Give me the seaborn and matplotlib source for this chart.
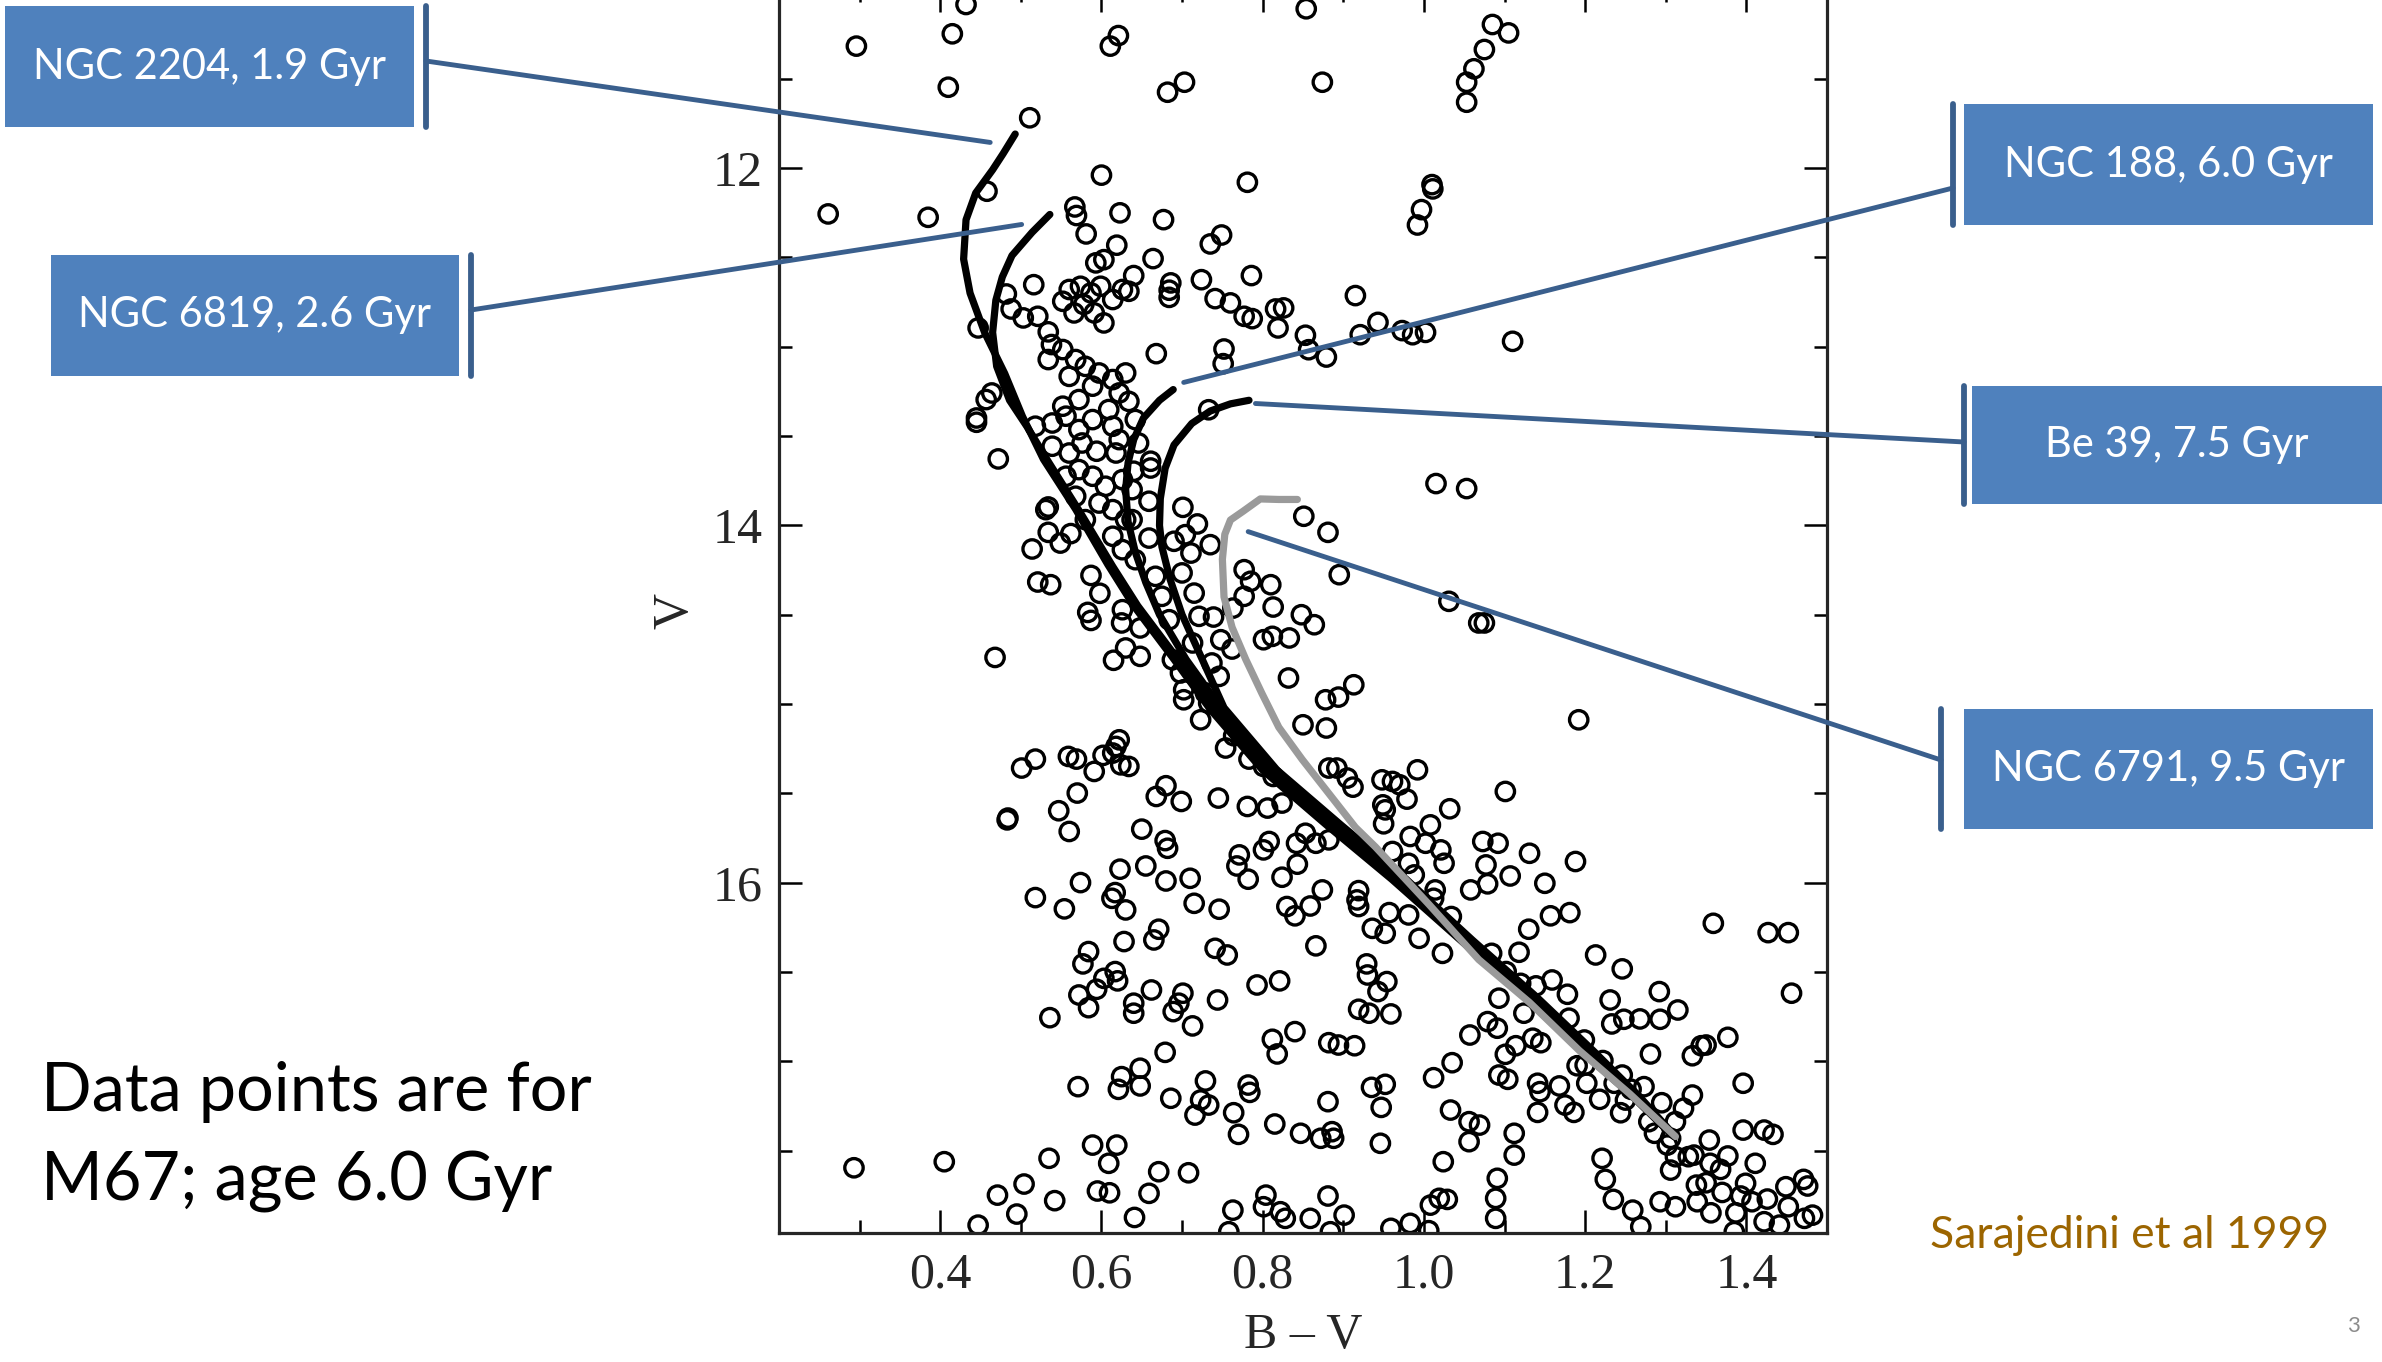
import pandas as pd
import matplotlib
matplotlib.use("Agg")
import matplotlib.pyplot as plt
from matplotlib.patches import Rectangle
from matplotlib.lines import Line2D
from matplotlib.ticker import FixedLocator, MultipleLocator, FormatStrFormatter
import seaborn as sns

# M67 stars (B-V, V)
m67_upper = [
    (0.432, 11.085), (0.415, 11.249), (0.296, 11.318), (0.621, 11.259), (0.611, 11.318),
    (0.410, 11.548), (0.511, 11.719), (0.600, 12.040), (0.458, 12.130), (0.261, 12.257),
    (0.385, 12.276), (0.567, 12.218), (0.569, 12.266), (0.623, 12.251), (0.581, 12.369),
    (0.619, 12.432), (0.516, 12.653), (0.482, 12.705), (0.488, 12.789), (0.503, 12.839),
    (0.521, 12.830), (0.534, 12.917), (0.538, 12.988), (0.534, 13.072), (0.447, 12.895),
    (0.464, 13.259), (0.457, 13.296), (0.445, 13.399),
    (0.593, 12.531), (0.603, 12.513), (0.560, 12.680), (0.574, 12.662), (0.587, 12.699),
    (0.599, 12.662), (0.626, 12.680), (0.552, 12.746), (0.566, 12.811), (0.578, 12.764),
    (0.591, 12.811), (0.603, 12.867), (0.614, 12.736), (0.552, 13.016), (0.568, 13.072),
    (0.580, 13.110), (0.597, 13.147), (0.614, 13.184), (0.560, 13.166), (0.552, 13.333),
    (0.572, 13.296), (0.589, 13.221), (0.622, 13.259), (0.609, 13.352), (0.630, 13.147),
    (0.854, 11.109), (0.682, 11.576), (0.703, 11.520), (0.874, 11.520), (1.062, 11.445),
    (1.053, 11.520), (1.053, 11.632), (0.781, 12.080), (1.010, 12.093), (1.011, 12.117),
    (0.997, 12.233), (0.992, 12.319), (0.677, 12.289), (0.749, 12.375), (0.735, 12.425),
    (0.664, 12.507), (0.640, 12.602), (0.634, 12.690), (0.686, 12.643), (0.684, 12.684),
    (0.684, 12.724), (0.724, 12.625), (0.786, 12.602), (0.741, 12.731), (0.760, 12.755),
    (0.777, 12.830), (0.787, 12.843), (0.816, 12.789), (0.826, 12.783), (0.819, 12.895),
    (0.915, 12.714), (0.853, 12.936), (0.857, 13.017), (0.879, 13.058), (0.921, 12.933),
    (0.943, 12.864), (0.973, 12.910), (0.986, 12.933), (1.002, 12.920), (0.668, 13.039),
    (0.752, 13.013), (0.751, 13.095), (0.634, 13.306), (0.733, 13.353),
    (1.085, 11.197), (1.105, 11.244), (1.075, 11.337), (1.110, 12.970),
]

m67_middle = [
    (0.445, 13.423), (0.472, 13.628), (0.534, 13.897), (0.531, 13.912), (0.534, 14.039),
    (0.549, 14.099), (0.562, 14.046), (0.514, 14.132), (0.521, 14.317), (0.537, 14.332),
    (0.587, 14.280), (0.598, 14.380), (0.583, 14.487), (0.587, 14.532), (0.626, 14.472),
    (0.625, 14.546), (0.630, 14.686), (0.615, 14.755), (0.468, 14.739), (0.594, 13.585),
    (0.518, 13.445), (0.539, 13.427), (0.556, 13.389), (0.572, 13.464), (0.589, 13.408),
    (0.614, 13.445), (0.622, 13.520), (0.539, 13.557), (0.560, 13.595), (0.576, 13.539),
    (0.618, 13.595), (0.556, 13.725), (0.572, 13.688), (0.589, 13.725), (0.605, 13.781),
    (0.626, 13.744), (0.568, 13.837), (0.597, 13.875), (0.614, 13.912), (0.630, 13.968),
    (0.580, 13.968), (0.614, 14.061), (0.626, 14.136),
    (0.622, 15.200), (0.618, 15.237), (0.614, 15.274), (0.624, 15.340), (0.602, 15.287),
    (0.518, 15.308), (0.501, 15.358), (0.559, 15.293), (0.569, 15.308), (0.591, 15.377),
    (0.570, 15.498), (0.547, 15.597), (0.484, 15.638),
    (1.015, 13.766), (1.053, 13.794), (0.851, 13.949), (0.881, 14.039), (0.895, 14.276),
    (1.031, 14.425), (1.068, 14.546), (0.701, 13.899), (0.719, 13.992), (0.704, 14.052),
    (0.690, 14.089), (0.735, 14.108), (0.711, 14.155), (0.700, 14.266), (0.661, 13.641),
    (0.661, 13.679), (0.640, 13.697), (0.659, 13.865), (0.659, 14.071), (0.777, 14.248),
    (0.785, 14.313), (0.777, 14.397), (0.810, 14.332), (0.813, 14.457), (0.848, 14.500),
    (0.864, 14.556), (0.801, 14.640), (0.812, 14.621), (0.833, 14.630), (0.763, 14.463),
    (0.739, 14.513), (0.715, 14.379), (0.748, 14.640), (0.762, 14.692), (0.648, 14.574),
    (0.648, 14.733), (0.688, 14.752), (0.698, 14.826), (0.702, 14.920), (0.702, 14.976),
    (0.723, 15.088), (0.733, 14.994), (0.832, 14.854), (0.878, 14.976), (0.894, 14.961),
    (0.913, 14.892), (0.850, 15.116), (0.879, 15.134), (0.764, 15.177), (0.754, 15.246),
    (0.783, 15.308), (0.801, 15.349), (0.813, 15.405), (0.634, 15.349), (0.680, 15.457),
    (0.668, 15.517), (0.699, 15.545), (0.745, 15.526), (0.781, 15.573), (0.806, 15.582),
    (0.824, 15.554), (0.882, 15.358), (0.892, 15.358), (0.905, 15.414), (0.912, 15.465),
    (0.948, 15.424), (0.961, 15.433), (0.970, 15.452), (0.992, 15.368), (0.979, 15.532),
    (0.949, 15.564), (0.952, 15.592), (1.032, 15.586),
    (0.642, 13.408), (0.646, 13.539), (0.638, 13.800), (0.638, 13.968), (0.642, 14.192),
    (0.667, 14.285), (0.675, 14.397), (0.684, 14.528), (0.721, 14.509), (0.713, 14.658),
    (0.737, 14.770), (0.746, 14.845), (0.729, 14.938),
    (1.075, 14.546), (1.192, 15.088), (1.101, 15.489),
]

m67_lower = [
    (0.483, 15.648), (0.560, 15.713), (0.623, 15.924), (0.574, 15.999), (0.518, 16.083),
    (0.554, 16.146), (0.617, 16.055), (0.613, 16.087), (0.630, 16.152), (0.628, 16.329),
    (0.584, 16.385), (0.577, 16.454), (0.617, 16.497), (0.620, 16.549), (0.603, 16.535),
    (0.594, 16.596), (0.572, 16.628), (0.584, 16.699), (0.536, 16.755), (0.625, 17.085),
    (0.621, 17.156), (0.571, 17.141), (0.589, 17.468), (0.619, 17.468), (0.609, 17.570),
    (0.535, 17.542), (0.293, 17.595), (0.405, 17.561), (0.504, 17.686), (0.471, 17.748),
    (0.595, 17.725), (0.610, 17.735), (0.542, 17.779), (0.495, 17.854), (0.447, 17.916),
    (0.650, 15.700), (0.679, 15.764), (0.682, 15.807), (0.655, 15.906), (0.680, 15.990),
    (0.710, 15.975), (0.715, 16.115), (0.746, 16.148), (0.771, 15.844),
    (0.768, 15.906), (0.782, 15.980), (0.808, 15.769), (0.801, 15.816), (0.842, 15.779),
    (0.843, 15.896), (0.824, 15.969), (0.853, 15.723), (0.866, 15.779), (0.882, 15.760),
    (0.874, 16.040), (0.830, 16.133), (0.840, 16.185), (0.859, 16.130), (0.919, 16.044),
    (0.917, 16.096), (0.919, 16.133), (0.866, 16.353), (0.936, 16.255), (0.952, 16.283),
    (0.957, 16.167), (0.981, 16.180), (0.994, 16.311), (1.023, 16.395), (0.981, 15.891),
    (0.988, 15.956), (1.014, 16.040), (1.012, 16.087), (1.058, 16.040), (1.025, 15.891),
    (1.008, 15.676), (0.950, 15.670), (0.961, 15.825), (0.983, 15.741), (1.002, 15.779),
    (1.021, 15.816), (1.034, 16.189), (0.671, 16.260), (0.665, 16.320),
    (0.741, 16.367), (0.756, 16.404), (0.662, 16.600), (0.640, 16.674), (0.640, 16.730),
    (0.701, 16.618), (0.696, 16.674), (0.689, 16.721), (0.713, 16.801), (0.744, 16.656),
    (0.793, 16.572), (0.821, 16.549), (0.840, 16.833), (0.812, 16.876), (0.818, 16.958),
    (0.882, 16.895), (0.894, 16.908), (0.914, 16.912), (0.929, 16.454), (0.930, 16.516),
    (0.954, 16.553), (0.943, 16.609), (0.919, 16.708), (0.932, 16.730), (0.959, 16.734),
    (1.057, 16.852), (0.679, 16.949), (0.648, 17.038), (0.648, 17.137), (0.686, 17.206),
    (0.729, 17.109), (0.723, 17.216), (0.733, 17.244), (0.716, 17.300), (0.782, 17.132),
    (0.784, 17.173), (0.764, 17.287), (0.770, 17.408), (0.815, 17.350), (0.847, 17.402),
    (0.872, 17.430), (0.886, 17.393), (0.888, 17.430), (0.881, 17.225), (0.935, 17.145),
    (0.952, 17.128), (0.947, 17.257), (0.946, 17.458), (1.012, 17.091), (1.035, 17.007),
    (1.033, 17.272), (1.056, 17.337), (1.056, 17.449), (1.024, 17.561), (0.671, 17.617),
    (0.708, 17.623), (0.659, 17.738), (0.641, 17.873), (0.763, 17.832), (0.804, 17.748),
    (0.801, 17.813), (0.822, 17.841), (0.828, 17.878), (0.859, 17.878), (0.881, 17.753),
    (0.901, 17.860), (0.758, 17.953), (0.884, 17.953), (0.959, 17.934), (0.983, 17.906),
    (1.008, 17.804), (1.019, 17.766), (1.029, 17.772), (1.006, 17.947),
    (1.073, 15.769), (1.092, 15.779), (1.131, 15.835), (1.188, 15.881), (1.077, 15.900),
    (1.079, 16.006), (1.107, 15.962), (1.150, 16.003), (1.157, 16.185), (1.181, 16.167),
    (1.130, 16.260), (1.359, 16.227), (1.427, 16.279), (1.452, 16.279), (1.456, 16.618),
    (1.118, 16.389), (1.084, 16.395), (1.213, 16.404), (1.246, 16.482), (1.102, 16.497),
    (1.120, 16.563), (1.139, 16.577), (1.159, 16.544), (1.178, 16.624), (1.093, 16.646),
    (1.231, 16.656), (1.292, 16.609), (1.315, 16.712), (1.180, 16.758), (1.233, 16.790),
    (1.248, 16.764), (1.268, 16.762), (1.293, 16.764), (1.079, 16.777), (1.091, 16.814),
    (1.124, 16.730), (1.199, 16.880), (1.135, 16.870), (1.145, 16.895), (1.114, 16.912),
    (1.101, 16.960), (1.281, 16.958), (1.333, 16.968), (1.344, 16.912), (1.350, 16.908),
    (1.377, 16.865), (1.190, 17.024), (1.200, 17.020), (1.222, 16.995), (1.093, 17.076),
    (1.104, 17.100), (1.141, 17.122), (1.144, 17.169), (1.168, 17.137), (1.202, 17.122),
    (1.236, 17.122), (1.246, 17.076), (1.273, 17.141), (1.257, 17.156), (1.218, 17.212),
    (1.250, 17.216), (1.175, 17.244), (1.186, 17.285), (1.141, 17.285), (1.244, 17.287),
    (1.295, 17.231), (1.333, 17.188), (1.322, 17.262), (1.396, 17.122), (1.279, 17.337),
    (1.286, 17.402), (1.312, 17.337), (1.306, 17.430), (1.302, 17.468), (1.312, 17.533),
    (1.328, 17.533), (1.306, 17.608), (1.335, 17.524), (1.354, 17.440), (1.355, 17.570),
    (1.368, 17.604), (1.377, 17.529), (1.396, 17.384), (1.422, 17.384), (1.433, 17.408),
    (1.411, 17.570), (1.069, 17.356), (1.112, 17.402), (1.112, 17.524), (1.221, 17.542),
    (1.225, 17.660), (1.091, 17.654), (1.089, 17.766), (1.089, 17.878), (1.235, 17.772),
    (1.259, 17.832), (1.269, 17.925), (1.293, 17.785), (1.312, 17.813), (1.338, 17.692),
    (1.350, 17.679), (1.339, 17.785), (1.356, 17.847), (1.370, 17.733), (1.399, 17.682),
    (1.393, 17.753), (1.407, 17.785), (1.387, 17.847), (1.426, 17.770), (1.449, 17.701),
    (1.452, 17.813), (1.471, 17.660), (1.476, 17.697), (1.422, 17.897), (1.441, 17.916),
    (1.472, 17.878), (1.482, 17.860), (1.385, 17.953),
]

# isochrones (B-V, V)
iso_ngc2204 = [(0.493, 11.81), (0.478, 11.92), (0.465, 12.01), (0.444, 12.14), (0.432, 12.29),
               (0.429, 12.51), (0.437, 12.70), (0.455, 12.92), (0.480, 13.15), (0.502, 13.39),
               (0.528, 13.63), (0.568, 13.91), (0.608, 14.22), (0.640, 14.45), (0.690, 14.75),
               (0.735, 15.03), (0.800, 15.37), (0.880, 15.68), (0.960, 15.98), (1.045, 16.32),
               (1.125, 16.64), (1.195, 16.94), (1.255, 17.18), (1.305, 17.40)]
iso_ngc6819 = [(0.536, 12.26), (0.514, 12.36), (0.489, 12.49), (0.477, 12.61), (0.469, 12.74),
               (0.465, 12.92), (0.470, 13.11), (0.486, 13.30), (0.508, 13.45), (0.535, 13.65),
               (0.574, 13.93), (0.614, 14.23), (0.645, 14.45), (0.695, 14.75), (0.742, 15.03),
               (0.806, 15.37), (0.886, 15.68), (0.966, 15.98), (1.050, 16.32), (1.130, 16.64),
               (1.200, 16.94), (1.260, 17.19), (1.308, 17.41)]
iso_ngc188 = [(0.689, 13.24), (0.672, 13.30), (0.652, 13.40), (0.640, 13.52), (0.633, 13.65),
              (0.630, 13.80), (0.633, 13.98), (0.642, 14.15), (0.655, 14.32), (0.672, 14.50),
              (0.705, 14.75), (0.748, 15.02), (0.812, 15.37), (0.892, 15.68), (0.972, 15.98),
              (1.055, 16.32), (1.135, 16.64), (1.205, 16.94), (1.263, 17.19), (1.310, 17.42)]
iso_be39 = [(0.783, 13.30), (0.760, 13.32), (0.735, 13.36), (0.712, 13.43), (0.690, 13.55),
            (0.679, 13.68), (0.673, 13.85), (0.672, 14.00), (0.675, 14.12), (0.685, 14.30),
            (0.700, 14.50), (0.720, 14.70), (0.752, 15.02), (0.818, 15.37), (0.898, 15.68),
            (0.978, 15.98), (1.060, 16.32), (1.140, 16.64), (1.210, 16.94), (1.266, 17.19),
            (1.312, 17.42)]
iso_ngc6791 = [(0.843, 13.855), (0.820, 13.855), (0.797, 13.852), (0.776, 13.92), (0.760, 13.97),
               (0.753, 14.05), (0.750, 14.19), (0.752, 14.40), (0.762, 14.57), (0.779, 14.75),
               (0.799, 14.94), (0.820, 15.13), (0.849, 15.31), (0.882, 15.50), (0.915, 15.69),
               (0.940, 15.80), (1.006, 16.12), (1.068, 16.43), (1.131, 16.67), (1.193, 16.94),
               (1.255, 17.18), (1.312, 17.42)]

labels = ["NGC 2204, 1.9 Gyr", "NGC 6819, 2.6 Gyr", "NGC 188, 6.0 Gyr",
          "Be 39, 7.5 Gyr", "NGC 6791, 9.5 Gyr"]
x_ticks = [0.4, 0.6, 0.8, 1.0, 1.2, 1.4]
y_ticks = [12, 14, 16]

W, H = 2382, 1362
BOX_BLUE = "#4f81bd"
LINE_BLUE = "#3a5f8d"
SANS = ["Lato", "DejaVu Sans"]

sns.set_style("ticks")
plt.rcParams['font.family'] = ['Liberation Serif', 'DejaVu Serif']

fig = plt.figure(figsize=(W / 100, H / 100), dpi=100)
ax = fig.add_axes([779 / W, (H - 1233) / H, 1048 / W, 1243.7 / H])

stars = pd.DataFrame(m67_upper + m67_middle + m67_lower, columns=["bv", "v"])
sns.scatterplot(data=stars, x="bv", y="v", marker="o", s=175, facecolor="none",
                edgecolor="black", linewidth=2.4, ax=ax, zorder=2)

isochrones = [(iso_ngc2204, "black"), (iso_ngc6819, "black"), (iso_ngc188, "black"),
              (iso_be39, "black"), (iso_ngc6791, "#9a9a9a")]
for pts, col in isochrones:
    df = pd.DataFrame(pts, columns=["bv", "v"])
    sns.lineplot(data=df, x="bv", y="v", sort=False, estimator=None, color=col,
                 lw=5.2, ax=ax, zorder=3, solid_capstyle="round")

ax.set_xlim(0.2, 1.5)
ax.set_ylim(17.96, 11.0)
ax.xaxis.set_major_locator(FixedLocator(x_ticks))
ax.xaxis.set_minor_locator(MultipleLocator(0.1))
ax.yaxis.set_major_locator(FixedLocator(y_ticks))
ax.yaxis.set_minor_locator(MultipleLocator(0.5))
ax.xaxis.set_major_formatter(FormatStrFormatter("%.1f"))
ax.yaxis.set_major_formatter(FormatStrFormatter("%d"))
ax.tick_params(which="both", direction="in", top=True, right=True, width=1.8,
               labelsize=36, color="black")
ax.tick_params(which="major", length=16.5)
ax.tick_params(which="minor", length=9.5)
ax.tick_params(axis="x", pad=14)
ax.tick_params(axis="y", pad=12)
for sp in ax.spines.values():
    sp.set_linewidth(2.3)
ax.set_xlabel("B – V", fontsize=36)
ax.set_ylabel("V", fontsize=36)
ax.xaxis.label.set_va("center")
ax.yaxis.label.set_va("center")
ax.xaxis.set_label_coords(0.5, -0.083)
ax.yaxis.set_label_coords(-0.099, 0.5)

# label boxes: (x0, y0, x1, y1) in pixels from top-left, bar x, connector start y, target
boxes = [
    ((5, 6, 414, 127), 426, 61, (0.462, 11.857)),
    ((51, 255, 459, 376), 471, 310, (0.501, 12.316)),
    ((1964, 104, 2373, 225), 1953, 188, (0.702, 13.20)),
    ((1972, 386, 2382, 504), 1964, 442, (0.791, 13.318)),
    ((1964, 709, 2373, 829), 1941, 760, (0.782, 14.035)),
]
for text, (rect, bar_x, cy, target) in zip(labels, boxes):
    x0, y0, x1, y1 = rect
    fig.add_artist(Rectangle((x0 / W, 1 - y1 / H), (x1 - x0) / W, (y1 - y0) / H,
                             transform=fig.transFigure, facecolor=BOX_BLUE,
                             edgecolor="none", zorder=5))
    fig.add_artist(Line2D([bar_x / W, bar_x / W], [1 - y0 / H, 1 - y1 / H],
                          transform=fig.transFigure, color=LINE_BLUE, lw=4.2, zorder=5))
    fig.text((x0 + x1) / 2 / W, 1 - (y0 + y1) / 2 / H, text, color="white",
             fontsize=30, family=SANS, ha="center", va="center", zorder=6)
    ax.annotate("", xy=target, xycoords="data", xytext=(bar_x, H - cy),
                textcoords="figure pixels", annotation_clip=False,
                arrowprops=dict(arrowstyle="-", color=LINE_BLUE, lw=3.5,
                                shrinkA=0, shrinkB=0))

fig.text(41 / W, 1 - 1092 / H, "Data points are for", fontsize=48,
         family=SANS, ha="left", va="center", color="black")
fig.text(41 / W, 1 - 1182 / H, "M67; age 6.0 Gyr", fontsize=48,
         family=SANS, ha="left", va="center", color="black")
fig.text(2129 / W, 1 - 1236 / H, "Sarajedini et al 1999", fontsize=32,
         family=SANS, ha="center", va="center", color="#9c6500")
fig.text(2353 / W, 1 - 1326 / H, "3", fontsize=16,
         family=SANS, ha="center", va="center", color="#8c8c8c")

fig.savefig("out.png", dpi=100)
